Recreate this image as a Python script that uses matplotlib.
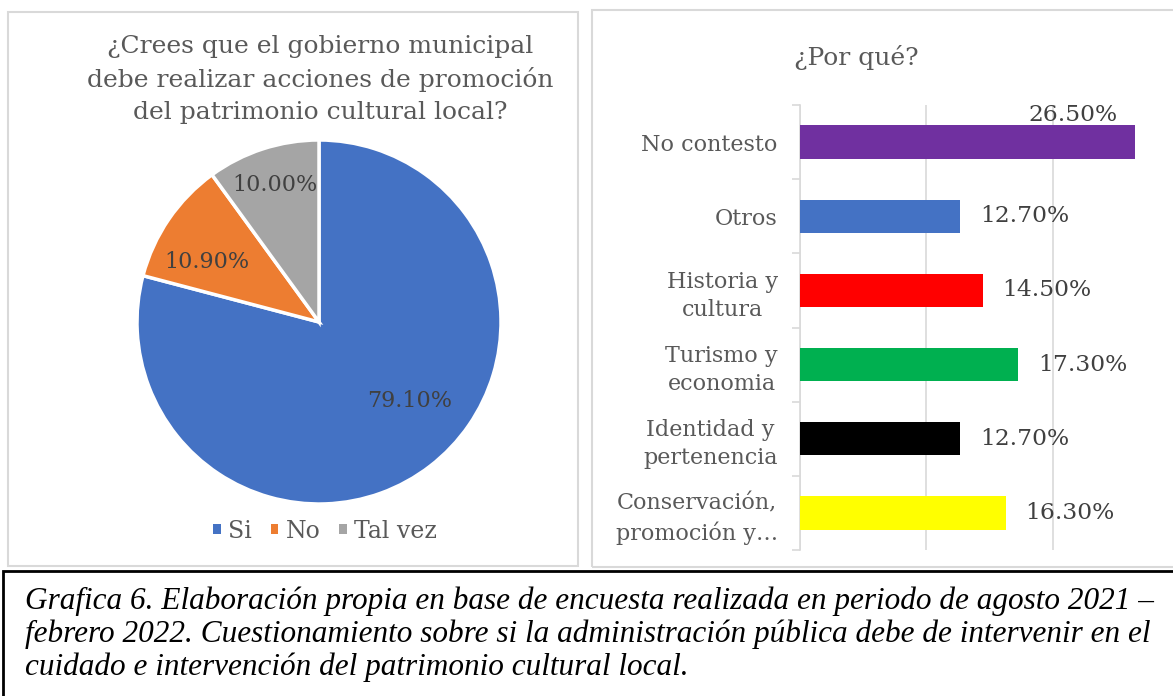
import numpy as np
import matplotlib
matplotlib.use("Agg")
import matplotlib.pyplot as plt
from matplotlib.patches import Rectangle, Patch

W, H = 1173, 696

# === Data ===
pie_labels = ["Si", "No", "Tal vez"]
pie_values = [79.1, 10.9, 10.0]
pie_colors = ["#4472C4", "#ED7D31", "#A5A5A5"]

bar_categories = ["No contesto", "Otros", "Historia y\ncultura", "Turismo y\neconomia",
                  "Identidad y\npertenencia", "Conservación,\npromoción y…"]
bar_values = [26.5, 12.7, 14.5, 17.3, 12.7, 16.3]
bar_colors = ["#7030A0", "#4472C4", "#FF0000", "#00B050", "#000000", "#FFFF00"]

pie_title = ["¿Crees que el gobierno municipal",
             "debe realizar acciones de promoción",
             "del patrimonio cultural local?"]
bar_title = "¿Por qué?"
caption = ["Grafica 6. Elaboración propia en base de encuesta realizada en periodo de agosto 2021 –",
           "febrero 2022. Cuestionamiento sobre si la administración pública debe de intervenir en el",
           "cuidado e intervención del patrimonio cultural local."]

TXT = "#595959"
LBL = "#404040"
SERIF = "DejaVu Serif"


def px_axes(fig, x0, y0, x1, y1):
    # pixel box (top-left origin) -> figure axes
    return fig.add_axes([x0 / W, 1 - y1 / H, (x1 - x0) / W, (y1 - y0) / H])


fig = plt.figure(figsize=(W / 100, H / 100), dpi=100, facecolor="white")

# chart boxes + caption box
fig.patches.append(Rectangle((8 / W, 1 - 566 / H), 570 / W, 554 / H, transform=fig.transFigure,
                             fill=False, edgecolor="#D9D9D9", lw=1.5))
fig.patches.append(Rectangle((592 / W, 1 - 567 / H), 600 / W, 557 / H, transform=fig.transFigure,
                             fill=False, edgecolor="#D9D9D9", lw=1.5))
fig.patches.append(Rectangle((3 / W, -0.1), 1.1, 1 - 571 / H + 0.1, transform=fig.transFigure,
                             fill=False, edgecolor="black", lw=2))

# === Pie ===
cx, cy, r = 319, 322, 182
ax_pie = px_axes(fig, cx - r, cy - r, cx + r, cy + r)
wedges, _, autotexts = ax_pie.pie(
    pie_values, colors=pie_colors, startangle=90, counterclock=False,
    autopct=lambda p: f"{p:.2f}%", pctdistance=0.72,
    wedgeprops=dict(edgecolor="white", linewidth=2.5),
    textprops=dict(color=LBL, fontsize=16, family=SERIF))
ax_pie.set_xlim(-1, 1)
ax_pie.set_ylim(-1, 1)
# Excel "best fit" places labels off-centre
label_pos = [(0.66, -41), (0.70, 152), (0.79, 108)]
for t, (d, a) in zip(autotexts, label_pos):
    t.set_position((d * np.cos(np.radians(a)), d * np.sin(np.radians(a))))

for i, line in enumerate(pie_title):
    fig.text(320 / W, 1 - (47 + 33 * i) / H, line, ha="center", va="center",
             fontsize=18, color=TXT, family=SERIF)

handles = [Patch(facecolor=c, edgecolor="none") for c in pie_colors]
fig.legend(handles, pie_labels, loc="center", bbox_to_anchor=(325 / W, 1 - 531 / H),
           ncol=3, frameon=False, handlelength=0.32, handleheight=0.32,
           handletextpad=0.3, columnspacing=0.8,
           prop=dict(family=SERIF, size=17), labelcolor=TXT)

# === Bars ===
ax_bar = px_axes(fig, 800, 105, 800 + 30 * 12.63, 550)
y = np.arange(len(bar_categories))
ax_bar.barh(y, bar_values, height=0.45, color=bar_colors, zorder=3)
ax_bar.set_xlim(0, 30)
ax_bar.set_ylim(len(bar_categories) - 0.5, -0.5)
ax_bar.set_xticks([0, 10, 20, 30])
ax_bar.tick_params(axis="x", length=0, labelbottom=False)
ax_bar.grid(axis="x", color="#D9D9D9", lw=1.2, zorder=0)
ax_bar.set_yticks(y)
ax_bar.set_yticklabels(bar_categories, fontsize=16, color=TXT, family=SERIF,
                       multialignment="center", linespacing=1.35)
ax_bar.tick_params(axis="y", length=0, pad=16)
ax_bar.set_yticks(np.arange(-0.5, len(bar_categories)), minor=True)
ax_bar.tick_params(axis="y", which="minor", length=6, color="#D9D9D9", width=1.2)
for s in ["top", "right", "bottom"]:
    ax_bar.spines[s].set_visible(False)
ax_bar.spines["left"].set_color("#D9D9D9")
ax_bar.spines["left"].set_linewidth(1.2)
ax_bar.set_facecolor("none")

for i, v in enumerate(bar_values):
    if i == 0:
        ax_bar.annotate(f"{v:.2f}%", (v, i - 0.22), xytext=(-12, 0), textcoords="offset points",
                        ha="right", va="bottom", fontsize=16.8, color=LBL, family=SERIF)
    else:
        ax_bar.annotate(f"{v:.2f}%", (v, i), xytext=(14, 0), textcoords="offset points",
                        ha="left", va="center", fontsize=16.8, color=LBL, family=SERIF)

fig.text(856 / W, 1 - 57 / H, bar_title, ha="center", va="center",
         fontsize=18, color=TXT, family=SERIF)

# === Caption ===
for i, line in enumerate(caption):
    fig.text(25 / W, 1 - (601 + 33 * i) / H, line, ha="left", va="center",
             fontsize=22.5, style="italic", color="black", family="Liberation Serif")

fig.savefig("out.png", dpi=100, facecolor="white")
